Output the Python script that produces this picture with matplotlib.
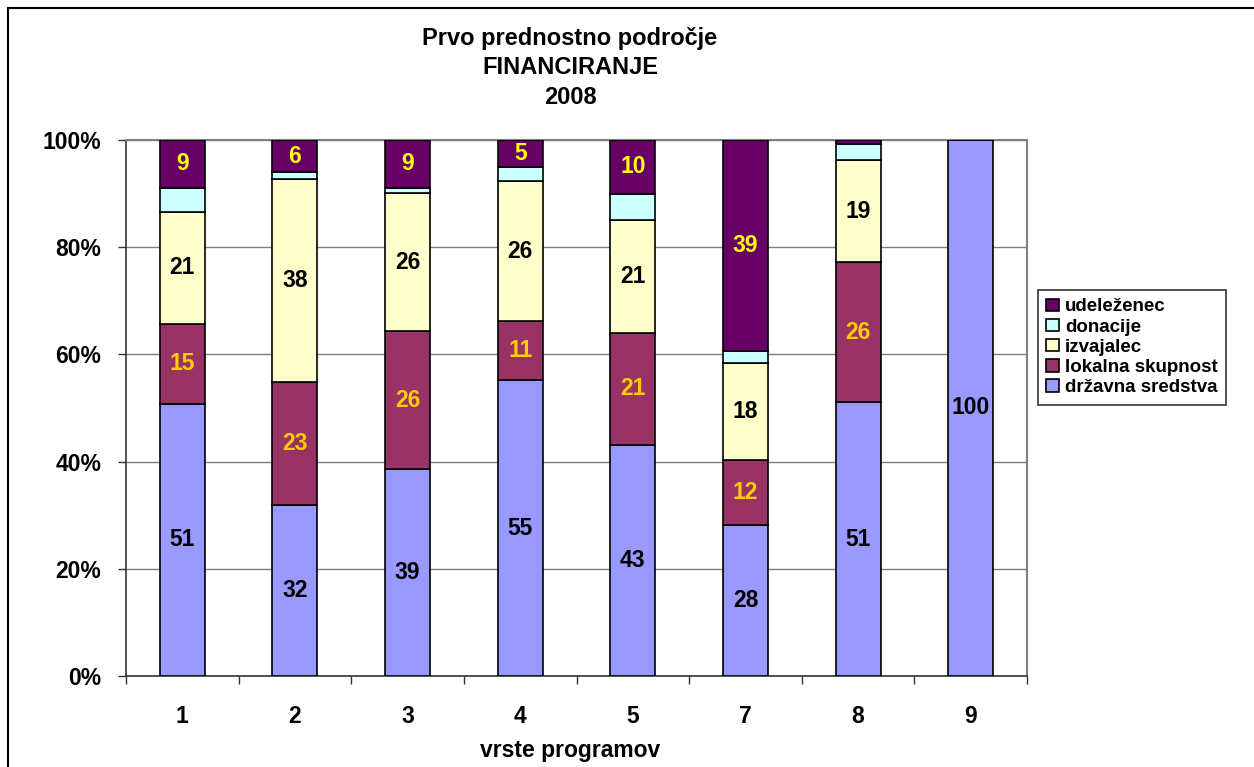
import matplotlib
matplotlib.use("Agg")
from matplotlib import pyplot as plt
from matplotlib.patches import Rectangle
import numpy as np

plt.rcParams['font.family'] = ['Liberation Sans', 'DejaVu Sans']
plt.rcParams['font.weight'] = 'bold'

categories = ["1", "2", "3", "4", "5", "7", "8", "9"]

# shares per programme type (labels as printed, donacije)
drzavna = [51, 32, 39, 55, 43, 28, 51, 100]
lokalna = [15, 23, 26, 11, 21, 12, 26, 0]
izvajalec = [21, 38, 26, 26, 21, 18, 19, 0]
donacije = [4.5, 1.3, 1.0, 2.7, 4.9, 2.3, 3.0, 0]
udelezenec = [9, 6, 9, 5, 10, 39, 0.8, 0]

series = [
    ("državna sredstva", drzavna, "#9999FF", "black"),
    ("lokalna skupnost", lokalna, "#993366", "#FFCC00"),
    ("izvajalec", izvajalec, "#FFFFCC", "black"),
    ("donacije", donacije, "#CCFFFF", None),
    ("udeleženec", udelezenec, "#660066", "#FFFF00"),
]

W, H = 1254, 767
fig = plt.figure(figsize=(W / 100, H / 100), dpi=100)
ax = fig.add_axes([126 / W, 1 - 676 / H, (1027 - 126) / W, (676 - 140) / H])

x = np.arange(len(categories))
totals = np.sum([np.array(s[1], dtype=float) for s in series], axis=0)
bottom = np.zeros(len(categories))
for name, vals, color, lcolor in series:
    vals = np.array(vals, dtype=float)
    h = vals / totals * 100
    ax.bar(x, h, 0.4, bottom=bottom, color=color, edgecolor="black",
           linewidth=1.2, label=name, zorder=3)
    if lcolor:
        for i in range(len(x)):
            if vals[i] >= 2:
                ax.text(x[i], bottom[i] + h[i] / 2, "%d" % round(vals[i]),
                        ha="center", va="center", fontsize=16.5,
                        fontweight="bold", color=lcolor, zorder=4)
    bottom += h

ax.set_xlim(-0.5, len(categories) - 0.5)
ax.set_ylim(0, 100)
ax.set_yticks(range(0, 101, 20))
ax.set_yticklabels(["%d%%" % v for v in range(0, 101, 20)])
ax.yaxis.grid(True, color="#808080", linewidth=1.0, zorder=0)
ax.set_xticks(x)
ax.set_xticklabels(categories)
ax.set_xticks(np.arange(-0.5, len(categories)), minor=True)
ax.tick_params(axis="x", which="major", length=0, pad=21, labelsize=16.5)
ax.tick_params(axis="x", which="minor", length=6, width=1, color="#333333",
               direction="out")
ax.tick_params(axis="y", length=6, width=1, color="#333333", pad=12,
               labelsize=16.5)
for s in ["top", "right"]:
    ax.spines[s].set_color("#808080")
    ax.spines[s].set_linewidth(1.5)
for s in ["left", "bottom"]:
    ax.spines[s].set_color("#333333")
    ax.spines[s].set_linewidth(1.2)

fig.text(570 / W, 1 - 68 / H, "Prvo prednostno področje\nFINANCIRANJE\n2008",
         ha="center", va="center", fontsize=17, fontweight="bold",
         linespacing=1.35)
fig.text(570 / W, 1 - 750 / H, "vrste programov", ha="center", va="center",
         fontsize=16.5, fontweight="bold")

handles, labels = ax.get_legend_handles_labels()
leg = fig.legend(handles[::-1], labels[::-1], loc="upper left",
                 bbox_to_anchor=(1038 / W, 1 - 290 / H), fontsize=13.5,
                 frameon=True, fancybox=False, handlelength=0.65,
                 handleheight=0.65, handletextpad=0.35, borderpad=0.45,
                 labelspacing=0.17, borderaxespad=0)
leg.get_frame().set_edgecolor("black")
leg.get_frame().set_linewidth(1.2)
for t in leg.get_texts():
    t.set_fontweight("bold")

fig.patches.append(Rectangle((8 / W, -0.5), 2, 0.5 + 1 - 8 / H,
                             transform=fig.transFigure, fill=False,
                             edgecolor="black", linewidth=1.5))

fig.savefig("out.png", dpi=100)
